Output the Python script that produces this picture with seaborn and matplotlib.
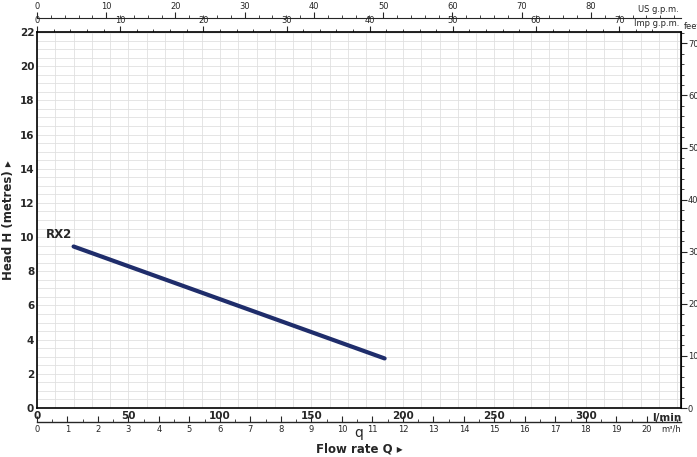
import matplotlib
matplotlib.use("Agg")
import matplotlib.pyplot as plt
import seaborn as sns
import numpy as np
import pandas as pd

flow_lmin = [20, 190]
head_m = [9.45, 2.9]
series_name = "RX2"

sns.set_style("white")
plt.rcParams['font.family'] = ['DejaVu Sans']

fig = plt.figure(figsize=(6.97, 4.57), dpi=100)
ax = fig.add_axes([37/697, 49/457, 644/697, 376/457])
XMAX, YMAX = 352, 22
ax.set_xlim(0, XMAX); ax.set_ylim(0, YMAX)

df = pd.DataFrame({"q": flow_lmin, "h": head_m})
sns.lineplot(data=df, x="q", y="h", ax=ax, color="#1f2d6b", lw=3, legend=False)
ax.text(flow_lmin[0]-1, head_m[0]+0.3, series_name, fontsize=8.5, fontweight="bold", ha="right", va="bottom")

ax.set_xticks(np.arange(0, 301, 50))
ax.set_xticks(np.arange(0, XMAX, 10), minor=True)
ax.set_yticks(np.arange(0, 23, 2))
ax.set_yticks(np.arange(0, 22.01, 0.5), minor=True)
ax.grid(which="both", color="#e0e0e0", lw=0.6)
ax.set_axisbelow(True)
for s in ax.spines.values():
    s.set_color("black"); s.set_linewidth(1.2)
ax.tick_params(which="both", length=0)
ax.tick_params(axis="x", labelsize=7.5, pad=2)
ax.tick_params(axis="y", labelsize=7.5, pad=2)
for t in ax.get_xticklabels() + ax.get_yticklabels():
    t.set_fontweight("bold")
fig.text(359/697, 1-449/457, "Flow rate Q ▸", fontsize=8.5, fontweight="bold", ha="center", va="center")
ax.set_ylabel("Head H (metres) ▸", fontsize=8.5, fontweight="bold", labelpad=3)
ax.text(XMAX, -0.3, "l/min", fontsize=7.5, fontweight="bold", ha="right", va="top")

# m3/h bottom axis
m3 = ax.secondary_xaxis(-0.037, functions=(lambda x: x/16.667, lambda x: x*16.667))
m3.set_xticks(np.arange(0, 21, 1))
m3.set_xticks(np.arange(0, 21.1, 0.5), minor=True)
m3.tick_params(which="major", direction="in", length=4, labelsize=6, pad=2)
m3.tick_params(which="minor", direction="in", length=2.5)
m3.spines["bottom"].set_linewidth(1)
ax.text(XMAX, -0.95, "m³/h", fontsize=6, ha="right", va="top")

# Imp gpm top axis (on top spine)
imp = ax.secondary_xaxis("top", functions=(lambda x: x/4.546, lambda x: x*4.546))
imp.set_xticks(np.arange(0, 71, 10))
imp.set_xticks(np.arange(0, 76, 2), minor=True)
imp.tick_params(which="major", direction="out", length=4, labelsize=6, pad=1)
imp.tick_params(which="minor", direction="out", length=2.5)
ax.text(XMAX-1, YMAX+0.25, "Imp g.p.m.", fontsize=6, ha="right", va="bottom")

# US gpm top axis
us = ax.secondary_xaxis(1.037, functions=(lambda x: x/3.785, lambda x: x*3.785))
us.set_xticks(np.arange(0, 81, 10))
us.set_xticks(np.arange(0, 93, 2), minor=True)
us.tick_params(which="major", direction="out", length=4, labelsize=6, pad=1)
us.tick_params(which="minor", direction="out", length=2.5)
ax.text(XMAX-1, YMAX*1.037+0.25, "US g.p.m.", fontsize=6, ha="right", va="bottom")

# feet right axis
ft = ax.secondary_yaxis("right", functions=(lambda y: y*3.281, lambda y: y/3.281))
ft.set_yticks(np.arange(0, 71, 10))
ft.set_yticks(np.arange(0, 73, 2), minor=True)
ft.tick_params(which="major", direction="out", length=4, labelsize=6, pad=1)
ft.tick_params(which="minor", direction="out", length=2)
ax.text(XMAX+1.5, YMAX+0.05, "feet", fontsize=6, ha="left", va="bottom")

fig.savefig("out.png", dpi=100)
